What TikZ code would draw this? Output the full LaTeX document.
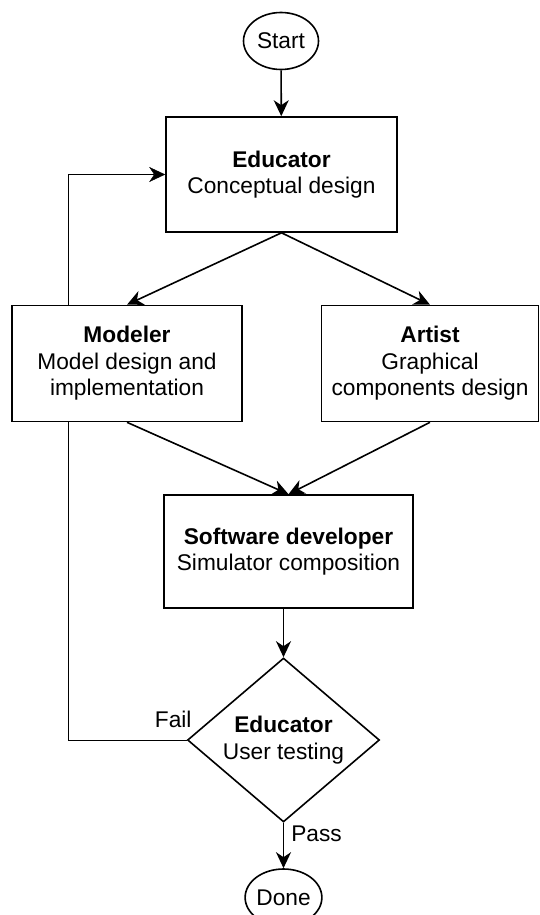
\documentclass[tikz,border=0pt]{standalone}
\usepackage{fontspec}
\setmainfont{Liberation Sans}
\usepackage{tikz}
\usetikzlibrary{arrows.meta}
\usetikzlibrary{shapes.geometric}
\usetikzlibrary{backgrounds}
\usepackage{xcolor}

\begin{document}
\begin{tikzpicture}[x=1pt,y=1pt,
        font=\fontsize{22.7}{26.5}\selectfont,
        line width=1.6pt,
        box/.style={shape=rectangle,draw=black,fill=white,align=center,inner sep=0pt},
        terminal/.style={shape=ellipse,draw=black,fill=white,inner sep=0pt,minimum width=75pt,minimum height=57pt},
        arr/.style={-{Stealth[length=16pt,width=15pt,inset=5pt]}},
        lbl/.style={inner sep=2pt}]
        \useasboundingbox (0,0) rectangle (540,-915);

        \node[terminal] (start) at (281,-41) {Start};
        \node[box,minimum width=231pt,minimum height=115pt] (educator) at (281.5,-174.5) {\textbf{Educator}\\Conceptual design};
        \node[box,minimum width=230pt,minimum height=116pt] (modeler) at (127,-363.5) {\textbf{Modeler}\\Model design and\\implementation};
        \node[box,minimum width=217pt,minimum height=116pt] (artist) at (430,-363.5) {\textbf{Artist}\\Graphical\\components design};
        \node[box,minimum width=249pt,minimum height=113pt] (dev) at (288.5,-551.5) {\textbf{Software developer}\\Simulator composition};
        \node[shape=diamond,draw=black,fill=white,align=center,inner sep=0pt,aspect=1.17,minimum width=192pt,minimum height=164pt] (test) at (283.5,-740) {\textbf{Educator}\\User testing};
        \node[terminal] (done) at (283.5,-897.5) {Done};
        \coordinate (back) at (68,-740);

        \path [arr] (start) edge (educator);
        \path [arr] (educator.south) edge (modeler.north);
        \path [arr] (educator.south) edge (artist.north);
        \path [arr] (modeler.south) edge (dev.north);
        \path [arr] (artist.south) edge (dev.north);
        \path [arr] (dev.south -| test.north) edge (test.north);
        \path [arr] (test.south) edge node[lbl,pos=0,anchor=north west,xshift=5pt] {Pass} (done.north);

        % loop back runs under the modeler box
        \begin{scope}[on background layer]
        \draw [arr] (test.west) -- node[lbl,pos=0,anchor=south east,xshift=7pt,yshift=10pt] {Fail} (back) |- (educator.west);
        \end{scope}
    \end{tikzpicture}
\end{document}
